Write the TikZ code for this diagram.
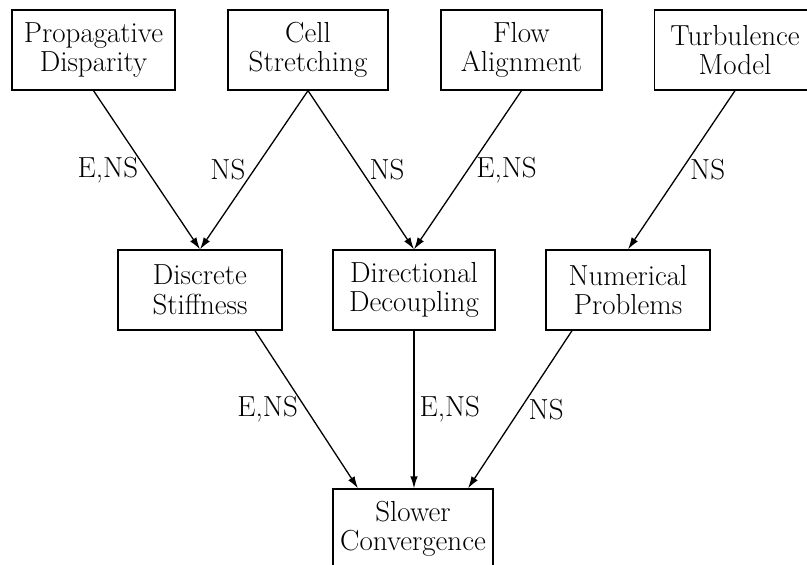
\documentclass[tikz,border=0pt]{standalone}
\usetikzlibrary{arrows.meta}
\begin{document}
\begin{tikzpicture}[x=1pt,y=-1pt,
  box/.style={draw,line width=1.3pt,minimum height=80pt,inner sep=0pt,align=center,
    font=\fontsize{29}{29.5}\selectfont},
  lbl/.style={font=\fontsize{29}{29.5}\selectfont,inner sep=8pt},
  conn/.style={line width=1.3pt,-{Latex[length=12pt,width=7.5pt]}}]
\useasboundingbox (0,0) rectangle (807,565);
\clip (0,0) rectangle (807,565);
\node[box,minimum width=163pt] (prop) at (93.5,50) {Propagative\\Disparity};
\node[box,minimum width=160pt] (cell) at (308,50) {Cell\\Stretching};
\node[box,minimum width=161pt] (flow) at (521.5,50) {Flow\\Alignment};
\node[box,minimum width=161pt] (turb) at (735,50) {Turbulence\\Model};
\node[box,minimum width=164pt] (disc) at (200,290) {Discrete\\Stiffness};
\node[box,minimum width=162pt] (dir) at (414,290) {Directional\\Decoupling};
\node[box,minimum width=164pt] (num) at (628,290) {Numerical\\Problems};
\node[box,minimum width=160pt] (slow) at (413,529) {Slower\\Convergence};
\draw[conn] (prop.south) -- node[lbl,midway,left] {E,NS} (disc.north);
\draw[conn] (cell.south) -- node[lbl,midway,left] {NS} (disc.north);
\draw[conn] (cell.south) -- node[lbl,midway,right] {NS} (dir.north);
\draw[conn] (flow.south) -- node[lbl,midway,right] {E,NS} (dir.north);
\draw[conn] (turb.south) -- node[lbl,midway,right] {NS} (num.north);
\draw[conn] ([xshift=55pt]disc.south) -- node[lbl,midway,left] {E,NS} ([xshift=-55pt]slow.north);
\draw[conn] (dir.south) -- node[lbl,midway,right,inner sep=5pt] {E,NS} (dir.south |- slow.north);
\draw[conn] ([xshift=-56pt]num.south) -- node[lbl,midway,right] {NS} ([xshift=55pt]slow.north);
\end{tikzpicture}
\end{document}
